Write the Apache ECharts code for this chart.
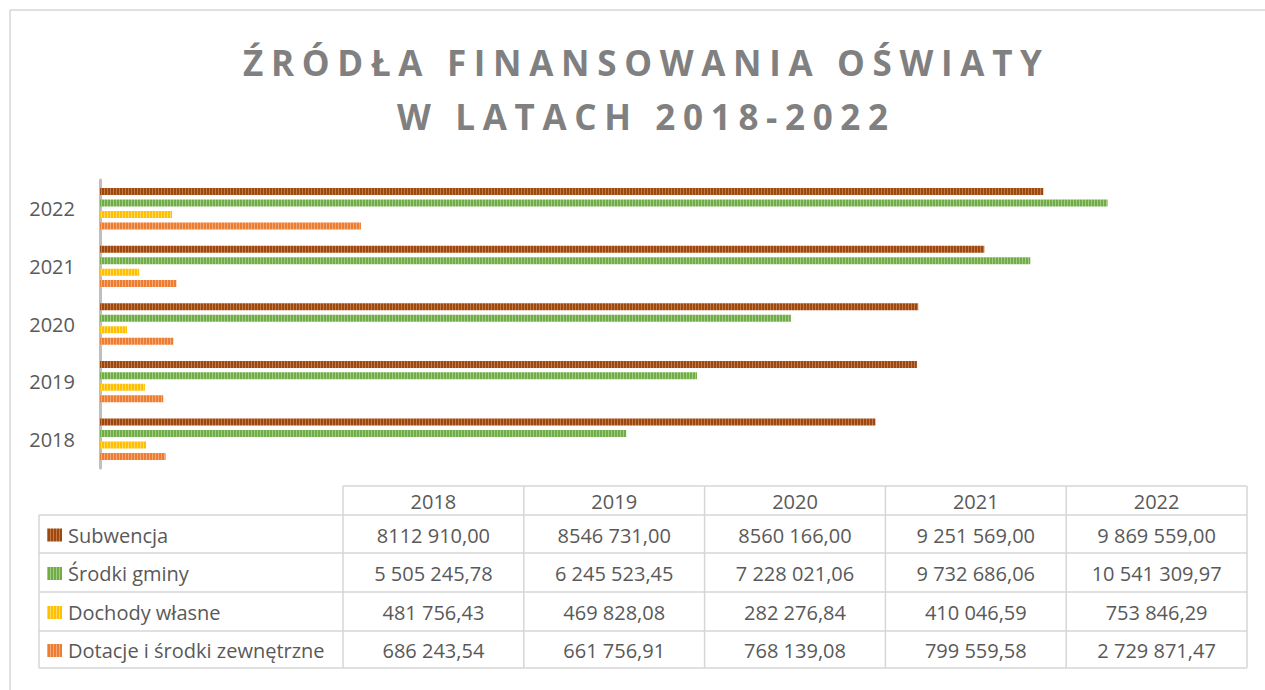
<!DOCTYPE html>
<html><head><meta charset="utf-8">
<script src="https://cdn.jsdelivr.net/npm/echarts@6/dist/echarts.min.js"></script>
<style>html,body{margin:0;padding:0;background:#fff}#c{width:1265px;height:690px}</style>
</head><body><div id="c"></div>
<script>
// ---- data ----
const titleLines = ['ŹRÓDŁA FINANSOWANIA OŚWIATY', 'W LATACH 2018-2022'];
const years = ['2018', '2019', '2020', '2021', '2022'];
const seriesNames = ['Subwencja', 'Środki gminy', 'Dochody własne', 'Dotacje i środki zewnętrzne'];
const subwencja = ['8112 910,00', '8546 731,00', '8560 166,00', '9 251 569,00', '9 869 559,00'];
const srodkiGminy = ['5 505 245,78', '6 245 523,45', '7 228 021,06', '9 732 686,06', '10 541 309,97'];
const dochodyWlasne = ['481 756,43', '469 828,08', '282 276,84', '410 046,59', '753 846,29'];
const dotacje = ['686 243,54', '661 756,91', '768 139,08', '799 559,58', '2 729 871,47'];

// ---- styles ----
const baseColors = ['#9E480E', '#70AD47', '#FFC000', '#ED7D31'];
const lightColors = ['#C07A4C', '#A2CB86', '#FFD866', '#F5A878'];
const FONT = '"Open Sans", "DejaVu Sans", sans-serif';
const TXT = '#595959';
const LINE = '#D6D6D6';

const tableStrings = [subwencja, srodkiGminy, dochodyWlasne, dotacje];
const toNum = s => parseFloat(s.replace(/\s/g, '').replace(',', '.'));
const seriesValues = tableStrings.map(a => a.map(toNum));

function stripe(i) {
  const c = document.createElement('canvas');
  c.width = 3; c.height = 4;
  const g = c.getContext('2d');
  g.fillStyle = baseColors[i]; g.fillRect(0, 0, 3, 4);
  g.fillStyle = lightColors[i]; g.fillRect(2, 0, 1, 4);
  return { image: c, repeat: 'repeat', imageWidth: 3, imageHeight: 4 };
}
const patterns = baseColors.map((_, i) => stripe(i));

// title letter spacing
const titleFont = 'bold 35px "Open Sans"';
const titleTargets = [799, 491];
const mctx = document.createElement('canvas').getContext('2d');
mctx.font = titleFont;
const spacing = titleLines.map((t, i) => {
  const w = mctx.measureText(t).width;
  return Math.max(0, (titleTargets[i] - w) / (t.length - 1));
});

// ---- table layout ----
const tblX0 = 39, colX0 = 343, tblX1 = 1247;
const rowY = [486, 515, 553, 592, 631, 668];
const colW = (tblX1 - colX0) / years.length;
const graphics = [];
// outer chart border
graphics.push({ type: 'line', shape: { x1: 10, y1: 10, x2: 1265, y2: 10 }, style: { stroke: LINE, lineWidth: 1.5 }, silent: true });
graphics.push({ type: 'line', shape: { x1: 10, y1: 10, x2: 10, y2: 690 }, style: { stroke: LINE, lineWidth: 1.5 }, silent: true });
// title
const titleY = [62, 116];
titleLines.forEach((t, i) => {
  graphics.push({ type: 'text', x: 642.5 + spacing[i] / 2, y: titleY[i], silent: true,
    style: { text: t, font: titleFont, fontFamily: '"Open Sans"', fontWeight: 'bold', fontSize: 35, fill: '#808080', align: 'center', verticalAlign: 'middle' } });
});
// table lines
graphics.push({ type: 'line', shape: { x1: colX0, y1: rowY[0], x2: tblX1, y2: rowY[0] }, style: { stroke: LINE, lineWidth: 1.5 }, silent: true });
for (let r = 1; r < rowY.length; r++) {
  graphics.push({ type: 'line', shape: { x1: tblX0, y1: rowY[r], x2: tblX1, y2: rowY[r] }, style: { stroke: LINE, lineWidth: 1.5 }, silent: true });
}
graphics.push({ type: 'line', shape: { x1: tblX0, y1: rowY[1], x2: tblX0, y2: rowY[5] }, style: { stroke: LINE, lineWidth: 1.5 }, silent: true });
for (let c = 0; c <= years.length; c++) {
  const x = colX0 + c * colW;
  graphics.push({ type: 'line', shape: { x1: x, y1: rowY[0], x2: x, y2: rowY[5] }, style: { stroke: LINE, lineWidth: 1.5 }, silent: true });
}
// header
years.forEach((y, c) => {
  graphics.push({ type: 'text', x: colX0 + (c + 0.5) * colW, y: (rowY[0] + rowY[1]) / 2 + 1, silent: true,
    style: { text: y, fontFamily: FONT, fontSize: 20, fill: TXT, align: 'center', verticalAlign: 'middle' } });
});
// rows
seriesNames.forEach((n, r) => {
  const cy = (rowY[r + 1] + rowY[r + 2]) / 2 + 1;
  graphics.push({ type: 'rect', shape: { x: 47, y: cy - 6.5, width: 15, height: 13 }, style: { fill: patterns[r] }, silent: true });
  graphics.push({ type: 'text', x: 68, y: cy, silent: true,
    style: { text: n, fontFamily: FONT, fontSize: 20, fill: TXT, align: 'left', verticalAlign: 'middle' } });
  tableStrings[r].forEach((s, c) => {
    graphics.push({ type: 'text', x: colX0 + (c + 0.5) * colW, y: cy, silent: true,
      style: { text: s, fontFamily: FONT, fontSize: 20, fill: TXT, align: 'center', verticalAlign: 'middle' } });
  });
});

const chart = echarts.init(document.getElementById('c'), null, { renderer: 'svg' });
chart.setOption({
  animation: false,
  backgroundColor: '#fff',
  grid: { left: 100, right: 18, top: 180, bottom: 222, containLabel: false },
  xAxis: { type: 'value', min: 0, max: 12000000, show: false },
  yAxis: {
    type: 'category', data: years, offset: 2,
    axisLine: { show: true, lineStyle: { color: '#BFBFBF', width: 3 } },
    axisTick: { show: false },
    axisLabel: { fontFamily: FONT, fontSize: 20, color: TXT, margin: 23 },
    splitLine: { show: false }
  },
  series: seriesNames.map((n, i) => ({
    type: 'bar', name: n, data: seriesValues[i], barWidth: 7, barGap: '64%',
    itemStyle: { color: patterns[i] }, silent: true
  })),
  graphic: graphics
});

function applySpacing() {
  document.querySelectorAll('#c svg text').forEach(t => {
    const i = titleLines.indexOf(t.textContent);
    if (i >= 0) t.setAttribute('letter-spacing', spacing[i].toFixed(2));
  });
}
applySpacing();
chart.on('finished', applySpacing);
</script>
</body></html>
